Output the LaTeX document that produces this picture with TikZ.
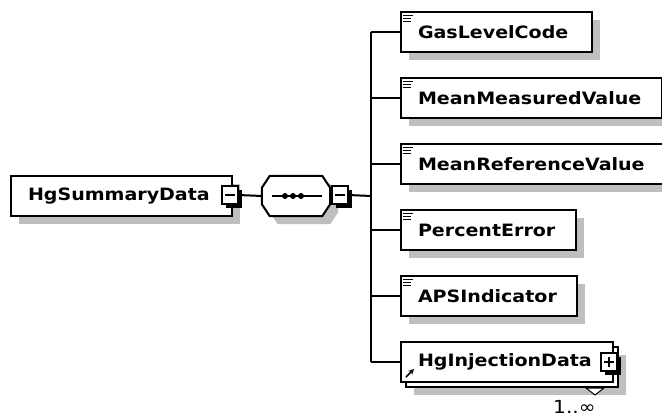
\documentclass[tikz,border=0pt]{standalone}
\usepackage{fontspec}
\setmainfont{DejaVu Sans}[FakeStretch=1.12]
\usetikzlibrary{calc,shadows,arrows,positioning}
\newcommand{\myBoxFont}{\fontsize{17}{18}\selectfont\bfseries\hyphenpenalty=10000\exhyphenpenalty=10000}
\tikzset{
myBox/.style={
	rectangle, draw, fill=white, line width=2pt,
	minimum height=40pt, inner xsep=17pt, inner ysep=0pt
}
, myShadow/.style={
	drop shadow={shadow xshift=8pt, shadow yshift=-8pt, fill=black!25, opacity=1}
}
, myElem/.style={
	myBox, myShadow, text width=#1, align=left, font=\myBoxFont,
	path picture = {
		\draw[line width=1pt]
		([shift={(2pt,-3pt)}]path picture bounding box.north west) -- ++(10pt,0)
		([shift={(2pt,-6pt)}]path picture bounding box.north west) -- ++(8pt,0)
		([shift={(2pt,-9pt)}]path picture bounding box.north west) -- ++(8pt,0);
	}
}
, myRef/.style={
	myBox, text width=#1, align=left, font=\myBoxFont,
	path picture = {
		\draw[-stealth, line width=1.5pt]
		([shift={(5pt,5pt)}]path picture bounding box.south west) -- ++(8pt,8pt);
	}
}
, myExp/.style={
	rectangle, draw, fill=white, line width=1.2pt,
	minimum width=16pt, minimum height=18pt, inner sep=0pt,
	drop shadow={shadow xshift=3.5pt, shadow yshift=-3.5pt, fill=black, opacity=1}
}
, myMinus/.style={
	myExp,
	path picture = {
		\draw[line width=1.4pt]
		([xshift=-5pt]path picture bounding box.center) -- ([xshift=5pt]path picture bounding box.center);
	}
}
, myPlus/.style={
	myExp,
	path picture = {
		\draw[line width=1.4pt]
		([xshift=-5pt]path picture bounding box.center) -- ([xshift=5pt]path picture bounding box.center)
		([yshift=-5pt]path picture bounding box.center) -- ([yshift=5pt]path picture bounding box.center);
	}
}
% link
, myLink/.style={line width=2pt}
}

\begin{document}
\begin{tikzpicture}[x=1pt,y=-1pt]
	\useasboundingbox (0,0) rectangle (662,416);
	% root
	\node[myElem=187pt, path picture={}, anchor=west] (HgSummaryData) at (10,196) {HgSummaryData};
	\node[myMinus] (SumExp) at (230,195) {};
	% sequence
	\node[minimum width=68pt, minimum height=40pt, inner sep=0pt] (Seq) at (296,196) {};
	\draw[myShadow, fill=white, line width=2pt]
		([xshift=8pt]Seq.north west) -- ([xshift=-8pt]Seq.north east)
		-- ([yshift=-12pt]Seq.north east) -- ([yshift=12pt]Seq.south east)
		-- ([xshift=-8pt]Seq.south east) -- ([xshift=8pt]Seq.south west)
		-- ([yshift=12pt]Seq.south west) -- ([yshift=-12pt]Seq.north west) -- cycle;
	\draw[line width=2pt] ([xshift=-24pt]Seq.center) -- ([xshift=26pt]Seq.center);
	\foreach \dx in {-11,-3,5}
		\fill ([xshift=\dx pt]Seq.center) circle (3pt);
	\node[myMinus] (SeqExp) at (340,195) {};
	\coordinate (Bus) at (371,196);
	% children
	\node[myElem=157pt, anchor=west] (GasLevelCode) at (400,32) {GasLevelCode};
	\node[myElem=227pt, anchor=west] (MeanMeasuredValue) at (400,98) {MeanMeasuredValue};
	\node[myElem=232pt, anchor=west] (MeanReferenceValue) at (400,164) {MeanReferenceValue};
	\node[myElem=141pt, anchor=west] (PercentError) at (400,230) {PercentError};
	\node[myElem=142pt, anchor=west] (APSIndicator) at (400,296) {APSIndicator};
	% reference, 1..unbounded
	\node[myBox, myShadow, minimum width=212pt, anchor=west] (InjBack) at (405,367) {};
	\node[myRef=178pt, anchor=west] (HgInjectionData) at (400,362) {HgInjectionData};
	\node[myPlus] (InjExp) at (609,362) {};
	\draw[fill=white, line width=1pt]
		($(InjBack.south east)+(-33,0)$) -- ++(18,0) -- ++(-9,7) -- cycle;
	\node[font=\fontsize{18}{20}\selectfont, anchor=base west, inner sep=0pt] (Occurs) at (553,413) {1..∞};
	% links
	\draw[myLink] (SumExp.east) -- (Seq.west);
	\draw[myLink] (SeqExp.east) -- (Bus);
	\draw[myLink] (Bus |- GasLevelCode.west) -- (Bus |- HgInjectionData.west);
	\draw[myLink] (Bus |- GasLevelCode.west) -- (GasLevelCode.west);
	\draw[myLink] (Bus |- MeanMeasuredValue.west) -- (MeanMeasuredValue.west);
	\draw[myLink] (Bus |- MeanReferenceValue.west) -- (MeanReferenceValue.west);
	\draw[myLink] (Bus |- PercentError.west) -- (PercentError.west);
	\draw[myLink] (Bus |- APSIndicator.west) -- (APSIndicator.west);
	\draw[myLink] (Bus |- HgInjectionData.west) -- (HgInjectionData.west);
\end{tikzpicture}
\end{document}
